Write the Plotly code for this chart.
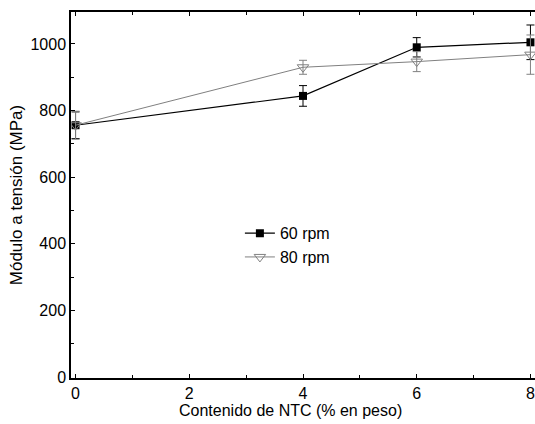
import plotly.graph_objects as go

x_vals = [0, 4, 6, 8]
rpm60 = [756, 844, 990, 1005]
rpm60_err = [40, 31, 29, 52]
rpm80 = [756, 930, 947, 968]
rpm80_err = [42, 21, 30, 59]
x_title = "Contenido de NTC (% en peso)"
y_title = "Módulo a tensión (MPa)"

fig = go.Figure()
fig.add_trace(go.Scatter(
    x=x_vals, y=rpm60, name="60 rpm", mode="lines+markers",
    line=dict(color="black", width=1.2),
    marker=dict(symbol="square", size=8, color="black"),
    error_y=dict(type="data", array=rpm60_err, color="black", thickness=1, width=4),
))
fig.add_trace(go.Scatter(
    x=x_vals, y=rpm80, name="80 rpm", mode="lines+markers",
    line=dict(color="#808080", width=1),
    marker=dict(symbol="triangle-down-open", size=10, color="#808080", line=dict(width=1)),
    error_y=dict(type="data", array=rpm80_err, color="#808080", thickness=1, width=4),
))

font = dict(family="Liberation Sans, Arial, sans-serif", size=16, color="black")
fig.update_layout(
    width=535, height=424,
    margin=dict(l=71, r=0, t=12, b=46),
    paper_bgcolor="white", plot_bgcolor="white",
    font=font,
    showlegend=True,
    legend=dict(x=0.364, y=0.442, xanchor="left", yanchor="top",
                bgcolor="rgba(0,0,0,0)", font=dict(size=16),
                tracegroupgap=0, itemwidth=30),
    xaxis=dict(
        range=[-0.08, 8.08], tickvals=[0, 2, 4, 6, 8],
        showline=True, linecolor="black", linewidth=1.5, mirror="ticks",
        ticks="inside", ticklen=4, tickcolor="black",
        minor=dict(tickvals=[1, 3, 5, 7], ticks="inside", ticklen=3, tickcolor="black"),
        showgrid=False, zeroline=False, automargin=False,
        tickfont=dict(size=16),
    ),
    yaxis=dict(
        range=[-3, 1096], tickvals=[0, 200, 400, 600, 800, 1000],
        showline=True, linecolor="black", linewidth=1.5, mirror=False,
        ticks="inside", ticklen=4, tickcolor="black",
        minor=dict(tickvals=[100, 300, 500, 700, 900], ticks="inside", ticklen=3, tickcolor="black"),
        showgrid=False, zeroline=False, automargin=False,
        title=dict(text=y_title, font=dict(size=17), standoff=4),
        tickfont=dict(size=16),
    ),
    annotations=[dict(
        text=x_title, xref="paper", yref="paper", x=0.474, y=-0.09,
        xanchor="center", yanchor="middle", showarrow=False, font=dict(size=16),
    )],
)
fig.write_html(
    "out.html",
    config={"displayModeBar": False},
    post_script="document.body.style.margin='0';document.body.style.overflow='hidden';",
)
